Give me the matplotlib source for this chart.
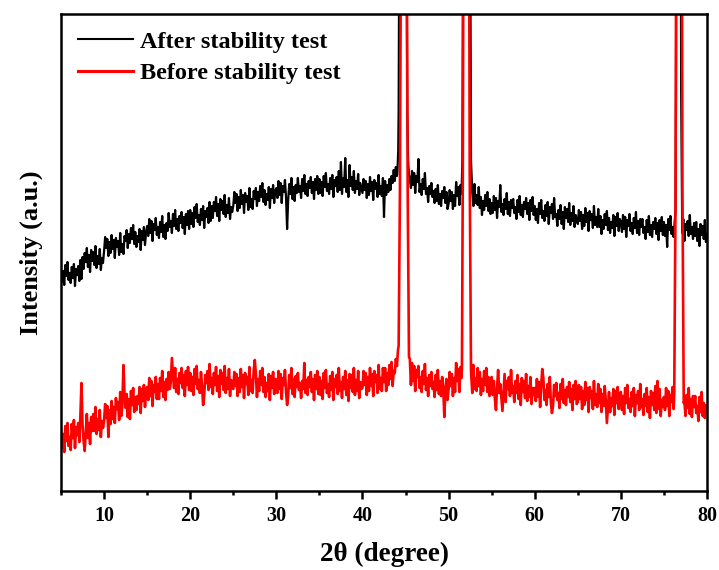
import numpy as np
import matplotlib
matplotlib.use("Agg")
import matplotlib.pyplot as plt
from matplotlib.ticker import MultipleLocator

plt.rcParams['font.family'] = ['Liberation Serif', 'DejaVu Serif']
plt.rcParams['font.weight'] = 'bold'

# ---- data (arbitrary intensity units, sampled 5..80 step 0.125) ----
x_start = 5.0
x_step = 0.125

after_bg = [
    # 5-10
    223, 209, 220, 206, 226, 215, 229, 211, 218, 208, 224, 213, 227, 205, 222, 216, 225, 210, 231, 212,
    234, 222, 238, 229, 243, 224, 236, 219, 241, 230, 239, 226, 245, 223, 235, 227, 242, 221, 233, 228,
    # 10-15
    240, 254, 243, 252, 235, 249, 238, 256, 242, 251, 233, 253, 244, 250, 236, 258, 239, 247, 237, 255,
    250, 261, 243, 257, 248, 263, 252, 266, 247, 259, 244, 255, 249, 262, 241, 260, 251, 264, 246, 258,
    # 15-20
    265, 255, 272, 258, 270, 250, 267, 261, 273, 256, 264, 253, 269, 259, 275, 254, 266, 252, 268, 260,
    278, 264, 270, 258, 277, 265, 281, 262, 272, 260, 275, 268, 279, 263, 274, 257, 277, 266, 280, 262,
    # 20-25
    281, 267, 278, 264, 284, 273, 287, 269, 276, 266, 282, 271, 285, 263, 280, 274, 283, 268, 289, 270,
    285, 273, 289, 280, 294, 275, 287, 270, 292, 281, 290, 277, 296, 274, 286, 278, 293, 272, 284, 279,
    # 25-30
    285, 299, 288, 297, 280, 294, 283, 301, 287, 296, 278, 298, 289, 295, 281, 303, 284, 292, 282, 300,
    292, 303, 285, 299, 290, 305, 294, 308, 289, 301, 286, 297, 291, 304, 283, 302, 293, 306, 288, 300,
    # 30-35
    303, 293, 310, 296, 308, 288, 305, 299, 311, 294, 262, 291, 307, 297, 313, 292, 304, 290, 306, 298,
    313, 299, 305, 293, 312, 300, 316, 297, 307, 295, 310, 303, 314, 298, 309, 292, 312, 301, 315, 297,
    # 35-40
    312, 298, 309, 295, 315, 304, 318, 300, 307, 297, 313, 302, 316, 294, 311, 305, 314, 299, 320, 301,
    329, 297, 313, 304, 333, 299, 311, 294, 326, 305, 314, 301, 320, 298, 310, 302, 317, 296, 308, 303,
    # 40-45
    298, 312, 301, 310, 293, 307, 296, 314, 300, 309, 291, 311, 302, 308, 294, 316, 297, 305, 295, 313,
    274, 310, 296, 306, 299, 312, 301, 315, 308, 321, 310, 324, 315, 330, 330, 330, 330, 330, 330, 330,
    # 45-50
    330, 330, 330, 330, 313, 303, 320, 306, 318, 298, 315, 309, 332, 299, 307, 296, 312, 302, 318, 297,
    303, 289, 305, 297, 308, 294, 300, 288, 302, 290, 306, 287, 297, 285, 300, 293, 304, 288, 299, 282,
    # 50-55
    287, 301, 290, 299, 282, 296, 285, 309, 295, 304, 286, 306, 297, 310, 310, 310, 310, 310, 310, 310,
    310, 310, 299, 285, 307, 288, 296, 286, 304, 283, 294, 276, 290, 281, 296, 285, 299, 280, 292, 277,
    # 55-60
    288, 278, 295, 281, 293, 273, 290, 284, 306, 279, 287, 276, 292, 282, 298, 277, 289, 275, 291, 283,
    292, 278, 284, 272, 291, 279, 295, 276, 286, 274, 289, 282, 293, 277, 288, 271, 291, 280, 294, 276,
    # 60-65
    285, 271, 282, 268, 288, 277, 291, 273, 280, 270, 286, 275, 289, 267, 284, 278, 287, 272, 293, 274,
    277, 265, 281, 272, 286, 267, 279, 262, 284, 273, 282, 269, 288, 266, 278, 270, 285, 264, 276, 271,
    # 65-70
    267, 281, 270, 279, 262, 276, 265, 283, 269, 278, 260, 280, 271, 277, 263, 285, 266, 274, 264, 282,
    264, 275, 257, 271, 262, 277, 266, 280, 261, 273, 258, 269, 263, 276, 255, 274, 265, 278, 260, 272,
    # 70-75
    269, 259, 276, 262, 274, 254, 271, 265, 277, 260, 268, 257, 273, 263, 279, 258, 270, 256, 272, 264,
    272, 258, 264, 252, 271, 259, 275, 256, 266, 254, 269, 262, 273, 257, 268, 251, 271, 260, 274, 256,
    # 75-80
    269, 255, 266, 244, 272, 261, 275, 257, 264, 254, 270, 270, 270, 270, 270, 270, 270, 258, 272, 250,
    267, 261, 270, 255, 276, 257, 264, 252, 268, 255, 269, 250, 262, 245, 267, 256, 265, 252, 271, 249,
    257,
]
after_peak_x = [44.05, 44.15, 44.2, 44.3, 44.7, 45.1, 45.2, 45.3, 45.4,
                51.6, 51.7, 52.1, 52.5, 52.6, 52.7,
                76.35, 76.4, 76.5, 76.7, 76.9, 77.0, 77.1]
after_peak_y = [318, 340, 380, 620, 3000, 620, 380, 330, 316,
                330, 600, 3000, 600, 330, 308,
                280, 400, 800, 3000, 800, 400, 275]

before_bg = [
    # 5-10
    61, 43, 57, 39, 65, 50, 68, 45, 54, 41, 67, 53, 71, 43, 64, 56, 68, 49, 75, 108,
    66, 50, 40, 59, 77, 53, 68, 47, 74, 60, 77, 60, 84, 57, 72, 61, 81, 54, 70, 63,
    # 10-15
    70, 87, 73, 85, 54, 81, 67, 90, 72, 84, 68, 93, 82, 89, 71, 99, 75, 86, 126, 96,
    83, 97, 74, 92, 72, 100, 86, 103, 79, 94, 81, 95, 87, 104, 78, 102, 90, 106, 84, 99,
    # 15-20
    104, 91, 113, 95, 110, 85, 106, 99, 114, 92, 107, 92, 113, 100, 120, 94, 109, 91, 112, 101,
    119, 102, 109, 133, 118, 103, 123, 99, 112, 97, 118, 108, 123, 103, 116, 95, 120, 106, 124, 101,
    # 20-25
    118, 100, 114, 96, 122, 107, 125, 102, 111, 98, 119, 105, 86, 95, 116, 108, 120, 101, 127, 104,
    113, 97, 118, 106, 124, 100, 115, 94, 121, 107, 118, 101, 125, 98, 113, 102, 122, 95, 111, 104,
    # 25-30
    102, 119, 105, 117, 95, 113, 99, 122, 104, 116, 93, 118, 107, 114, 96, 124, 100, 111, 98, 121,
    131, 117, 94, 112, 100, 120, 106, 123, 99, 114, 94, 108, 100, 117, 91, 115, 103, 119, 97, 112,
    # 30-35
    111, 98, 120, 102, 117, 92, 113, 106, 121, 99, 86, 95, 116, 103, 123, 97, 112, 94, 115, 104,
    118, 101, 108, 93, 110, 102, 128, 98, 111, 96, 114, 104, 119, 99, 112, 91, 116, 102, 120, 97,
    # 35-40
    114, 96, 110, 92, 118, 103, 121, 98, 107, 94, 115, 101, 119, 91, 112, 104, 116, 97, 123, 100,
    109, 93, 114, 102, 120, 96, 111, 90, 117, 103, 116, 99, 123, 96, 111, 100, 120, 93, 109, 102,
    # 40-45
    103, 120, 106, 118, 96, 114, 100, 123, 105, 117, 95, 120, 109, 116, 98, 126, 102, 113, 100, 123,
    109, 123, 100, 118, 106, 126, 112, 129, 105, 120, 118, 132, 125, 141, 140, 140, 140, 140, 140, 140,
    # 45-50
    140, 140, 140, 140, 132, 106, 128, 110, 125, 100, 121, 114, 125, 103, 114, 99, 120, 107, 127, 101,
    113, 95, 116, 105, 119, 102, 109, 94, 116, 101, 121, 97, 110, 95, 114, 104, 74, 99, 112, 91,
    # 50-55
    102, 119, 105, 117, 95, 113, 99, 128, 110, 122, 99, 124, 113, 120, 120, 120, 120, 120, 120, 120,
    120, 116, 98, 126, 102, 113, 100, 123, 105, 119, 96, 112, 100, 120, 106, 123, 99, 114, 95, 109,
    # 55-60
    114, 96, 110, 92, 81, 103, 121, 98, 107, 94, 80, 99, 117, 89, 110, 102, 114, 95, 121, 98,
    105, 89, 110, 98, 116, 92, 107, 86, 113, 99, 110, 93, 117, 90, 105, 94, 114, 87, 103, 96,
    # 60-65
    103, 90, 112, 94, 109, 84, 106, 122, 113, 91, 101, 86, 107, 94, 114, 88, 78, 85, 106, 95,
    108, 91, 98, 83, 107, 92, 112, 88, 101, 86, 104, 94, 109, 89, 102, 81, 106, 92, 110, 87,
    # 65-70
    89, 106, 92, 104, 82, 100, 86, 109, 91, 103, 79, 104, 93, 100, 82, 110, 86, 97, 84, 107,
    88, 102, 79, 97, 85, 105, 91, 68, 84, 99, 79, 93, 85, 102, 76, 100, 88, 104, 82, 97,
    # 70-75
    99, 81, 95, 77, 103, 88, 106, 83, 92, 79, 99, 85, 103, 75, 96, 88, 100, 81, 107, 84,
    92, 76, 97, 85, 103, 79, 94, 73, 100, 86, 98, 81, 105, 78, 110, 82, 102, 75, 91, 84,
    # 75-80
    94, 81, 103, 85, 100, 75, 96, 89, 104, 82, 100, 100, 100, 100, 100, 100, 100, 100, 100, 90,
    75, 96, 83, 103, 77, 92, 74, 95, 84, 95, 78, 85, 70, 94, 79, 99, 75, 88, 73, 86,
    80,
]
before_peak_x = [44.2, 44.35, 44.45, 44.8, 45.15, 45.25, 45.4,
                 51.55, 51.65, 51.72, 52.05, 52.38, 52.45, 52.6,
                 76.2, 76.35, 76.42, 76.75, 77.08, 77.15, 77.3]
before_peak_y = [145, 300, 520, 3000, 520, 300, 134,
                 125, 320, 560, 3000, 560, 320, 122,
                 100, 300, 560, 3000, 560, 300, 88]

series_labels = ["After stability test", "Before stability test"]
x_ticks = [10, 20, 30, 40, 50, 60, 70, 80]


def build(bg, px, py):
    bg = np.asarray(bg, dtype=float)
    gx = x_start + x_step * np.arange(len(bg))
    px = np.asarray(px, dtype=float)
    py = np.asarray(py, dtype=float)
    keep = np.ones(len(gx), dtype=bool)
    groups = np.split(np.arange(len(px)), np.where(np.diff(px) > 2)[0] + 1)
    for g in groups:
        lo, hi = px[g].min(), px[g].max()
        keep &= ~((gx >= lo - 1e-9) & (gx <= hi + 1e-9))
    xx = np.concatenate([gx[keep], px])
    yy = np.concatenate([bg[keep], py])
    o = np.argsort(xx)
    return xx[o], yy[o]


a_x, a_y = build(after_bg, after_peak_x, after_peak_y)
b_x, b_y = build(before_bg, before_peak_x, before_peak_y)

fig = plt.figure(figsize=(7.19, 5.70), dpi=100)
ax = fig.add_axes([61 / 719, 79 / 570, 646 / 719, 477 / 570])

ax.plot(a_x, a_y, color='black', lw=1.6, label=series_labels[0])
ax.plot(b_x, b_y, color='#ff0000', lw=1.9, label=series_labels[1])

ax.set_xlim(5, 80)
ax.set_ylim(0, 477)
ax.set_xticks(x_ticks)
ax.xaxis.set_minor_locator(MultipleLocator(5))
ax.set_yticks([])
ax.tick_params(axis='x', which='major', direction='out', length=6, width=1.8,
               labelsize=14.5, pad=5)
ax.tick_params(axis='x', which='minor', direction='out', length=3, width=1.8)
for lab in ax.get_xticklabels():
    lab.set_fontweight('bold')
for s in ax.spines.values():
    s.set_linewidth(1.8)

ax.set_xlabel("2θ (degree)", fontsize=19.5, fontweight='bold', labelpad=11)
ax.set_ylabel("Intensity (a.u.)", fontsize=19, fontweight='bold', labelpad=13)

leg = ax.legend(loc='upper left', bbox_to_anchor=(0.026, 0.965), frameon=False,
                fontsize=17.5, handlelength=2.26, handletextpad=0.3,
                labelspacing=0.4, borderpad=0, borderaxespad=0)
for t in leg.get_texts():
    t.set_fontweight('bold')
leg.get_lines()[0].set_linewidth(1.5)
leg.get_lines()[1].set_linewidth(2.2)

fig.savefig("out.png", dpi=100)
